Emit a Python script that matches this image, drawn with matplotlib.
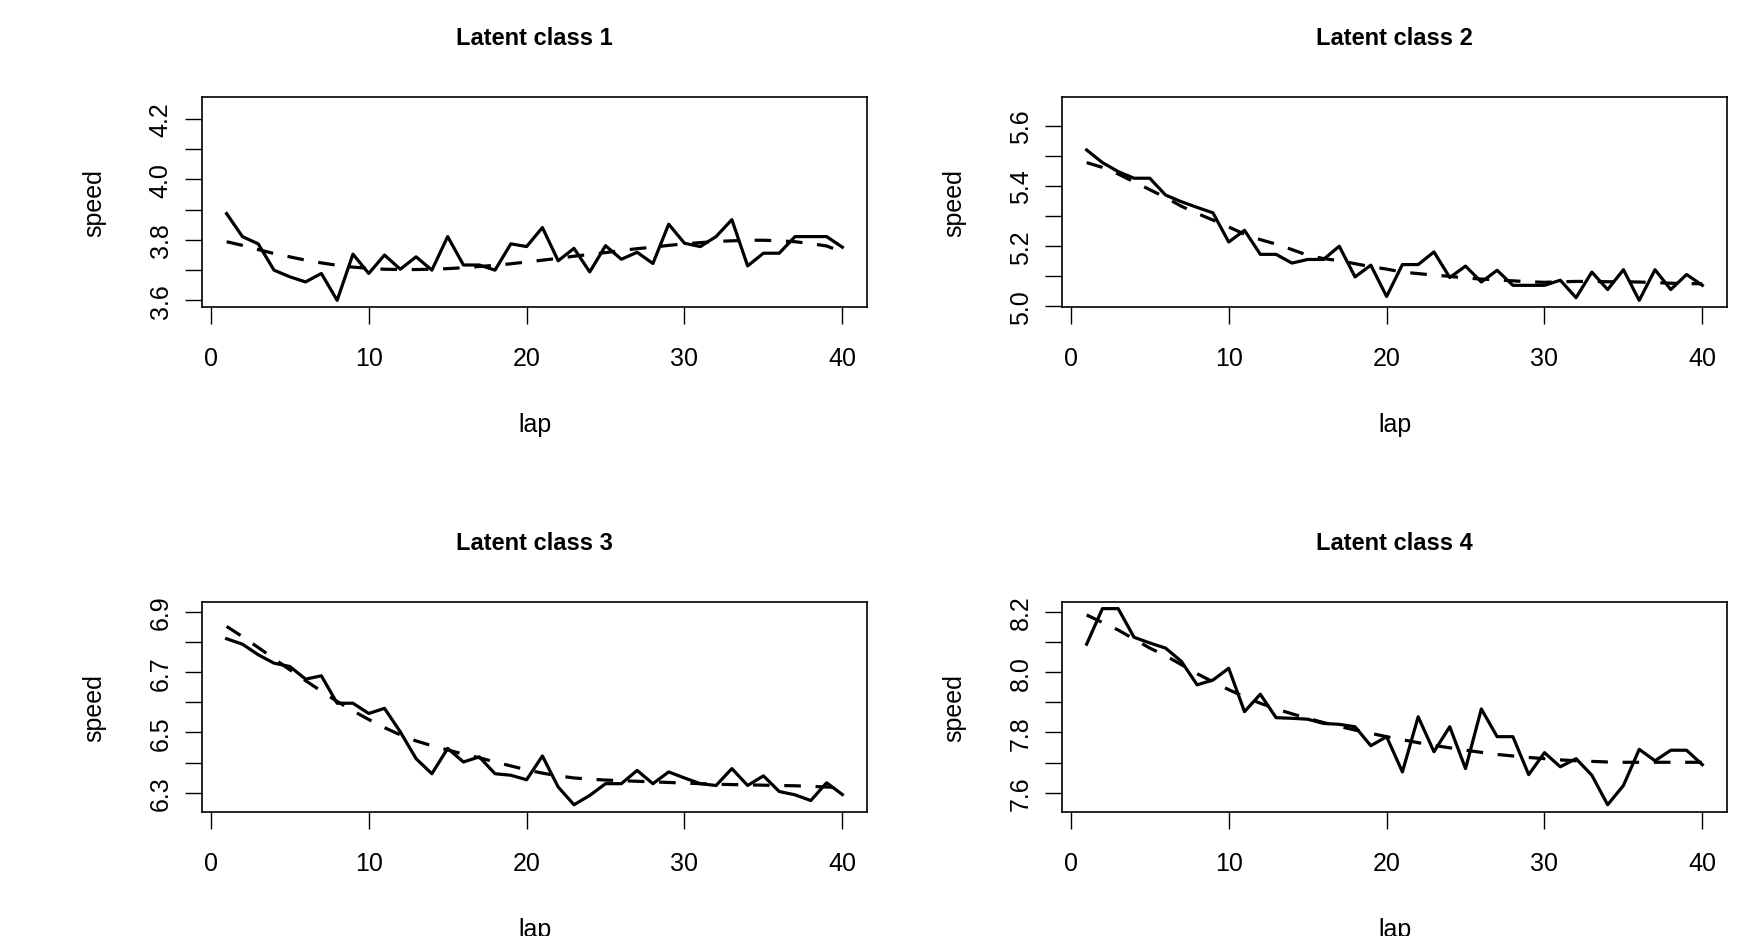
import matplotlib
matplotlib.use("Agg")
import matplotlib.pyplot as plt

plt.rcParams['font.family'] = ['Liberation Sans', 'DejaVu Sans']

laps = list(range(1, 41))
x_ticks = [0, 10, 20, 30, 40]
titles = ["Latent class 1", "Latent class 2", "Latent class 3", "Latent class 4"]

# observed mean speed per lap (solid line)
class1_obs = [3.887, 3.811, 3.787, 3.700, 3.678, 3.661, 3.689, 3.600, 3.753, 3.689,
              3.750, 3.703, 3.744, 3.700, 3.811, 3.717, 3.717, 3.700, 3.787, 3.778,
              3.841, 3.731, 3.772, 3.694, 3.781, 3.736, 3.759, 3.722, 3.852, 3.789,
              3.778, 3.811, 3.867, 3.714, 3.756, 3.756, 3.811, 3.811, 3.811, 3.776]
class2_obs = [5.520, 5.478, 5.448, 5.426, 5.426, 5.370, 5.348, 5.329, 5.311, 5.214,
              5.253, 5.173, 5.173, 5.144, 5.156, 5.156, 5.200, 5.098, 5.137, 5.033,
              5.139, 5.139, 5.181, 5.096, 5.134, 5.081, 5.120, 5.070, 5.070, 5.070,
              5.087, 5.029, 5.114, 5.056, 5.122, 5.020, 5.122, 5.056, 5.106, 5.070]
class3_obs = [6.811, 6.793, 6.758, 6.730, 6.719, 6.677, 6.688, 6.597, 6.597, 6.563,
              6.580, 6.502, 6.413, 6.363, 6.447, 6.402, 6.419, 6.363, 6.358, 6.343,
              6.422, 6.319, 6.260, 6.291, 6.330, 6.330, 6.374, 6.330, 6.369, 6.349,
              6.330, 6.324, 6.380, 6.324, 6.356, 6.304, 6.293, 6.274, 6.333, 6.294]
class4_obs = [8.093, 8.211, 8.211, 8.116, 8.097, 8.080, 8.036, 7.958, 7.974, 8.013,
              7.869, 7.927, 7.849, 7.847, 7.844, 7.830, 7.827, 7.819, 7.756, 7.786,
              7.669, 7.852, 7.736, 7.819, 7.680, 7.878, 7.786, 7.786, 7.660, 7.733,
              7.686, 7.713, 7.658, 7.560, 7.624, 7.744, 7.706, 7.741, 7.741, 7.693]

# fitted mean speed per lap (dashed line)
class1_fit = [3.794, 3.782, 3.768, 3.755, 3.744, 3.733, 3.724, 3.716, 3.710, 3.706,
              3.703, 3.702, 3.702, 3.703, 3.705, 3.708, 3.712, 3.716, 3.721, 3.727,
              3.733, 3.739, 3.746, 3.752, 3.758, 3.765, 3.771, 3.776, 3.782, 3.787,
              3.791, 3.795, 3.797, 3.799, 3.799, 3.797, 3.794, 3.788, 3.780, 3.760]
class2_fit = [5.478, 5.462, 5.440, 5.414, 5.388, 5.362, 5.333, 5.309, 5.287, 5.264,
              5.240, 5.222, 5.207, 5.189, 5.170, 5.159, 5.152, 5.142, 5.132, 5.124,
              5.114, 5.109, 5.104, 5.100, 5.094, 5.091, 5.088, 5.085, 5.082, 5.080,
              5.082, 5.083, 5.083, 5.082, 5.082, 5.081, 5.079, 5.077, 5.076, 5.075]
class3_fit = [6.852, 6.818, 6.782, 6.745, 6.708, 6.672, 6.637, 6.603, 6.572, 6.543,
              6.516, 6.492, 6.472, 6.456, 6.442, 6.428, 6.416, 6.402, 6.389, 6.376,
              6.365, 6.356, 6.349, 6.345, 6.342, 6.340, 6.338, 6.336, 6.334, 6.332,
              6.330, 6.328, 6.327, 6.326, 6.325, 6.324, 6.323, 6.321, 6.319, 6.317]
class4_fit = [8.190, 8.165, 8.140, 8.110, 8.080, 8.055, 8.025, 7.995, 7.968, 7.942,
              7.918, 7.897, 7.878, 7.862, 7.847, 7.833, 7.820, 7.808, 7.797, 7.786,
              7.776, 7.766, 7.757, 7.749, 7.741, 7.734, 7.727, 7.722, 7.717, 7.713,
              7.709, 7.706, 7.704, 7.702, 7.701, 7.701, 7.701, 7.701, 7.701, 7.701]

# y ticks (every 0.1, only every other one labelled as in the original)
class1_yticks = [3.6, 3.7, 3.8, 3.9, 4.0, 4.1, 4.2]
class1_ylabels = ["3.6", "", "3.8", "", "4.0", "", "4.2"]
class2_yticks = [5.0, 5.1, 5.2, 5.3, 5.4, 5.5, 5.6]
class2_ylabels = ["5.0", "", "5.2", "", "5.4", "", "5.6"]
class3_yticks = [6.3, 6.4, 6.5, 6.6, 6.7, 6.8, 6.9]
class3_ylabels = ["6.3", "", "6.5", "", "6.7", "", "6.9"]
class4_yticks = [7.6, 7.7, 7.8, 7.9, 8.0, 8.1, 8.2]
class4_ylabels = ["7.6", "", "7.8", "", "8.0", "", "8.2"]

obs = [class1_obs, class2_obs, class3_obs, class4_obs]
fit = [class1_fit, class2_fit, class3_fit, class4_fit]
yticks = [class1_yticks, class2_yticks, class3_yticks, class4_yticks]
ylabels = [class1_ylabels, class2_ylabels, class3_ylabels, class4_ylabels]
ylims = [(3.578, 4.273), (4.998, 5.696), (6.236, 6.933), (7.536, 8.233)]

W, H = 1757, 937
fig = plt.figure(figsize=(W / 100, H / 100), dpi=100)

# panel boxes in pixels: left, top
boxes = [(202, 98), (1062, 98), (202, 603), (1062, 603)]
bw, bh = 665, 210

for i in range(4):
    left, top = boxes[i]
    ax = fig.add_axes([left / W, 1 - (top + bh) / H, bw / W, bh / H])
    ax.plot(laps, obs[i], color="black", lw=2.3)
    ax.plot(laps, fit[i], color="black", lw=2.3, ls=(0, (5.2, 4.6)))
    ax.set_xlim(-0.56, 41.56)
    ax.set_ylim(*ylims[i])
    ax.set_xticks(x_ticks)
    ax.set_yticks(yticks[i])
    ax.set_yticklabels(ylabels[i], rotation=90, va="center")
    ax.tick_params(direction="out", length=12, width=1.0, labelsize=18, colors="black")
    ax.tick_params(axis="x", pad=16)
    ax.tick_params(axis="y", pad=9)
    for s in ax.spines.values():
        s.set_linewidth(1.2)
    ax.set_title(titles[i], fontsize=17, fontweight="bold", pad=38)
    ax.set_xlabel("lap", fontsize=18, va="center")
    ax.xaxis.set_label_coords(0.5, -117 / bh)
    ax.set_ylabel("speed", fontsize=18, va="center")
    ax.yaxis.set_label_coords(-108 / bw, 0.5)

fig.savefig("out.png", dpi=100)
